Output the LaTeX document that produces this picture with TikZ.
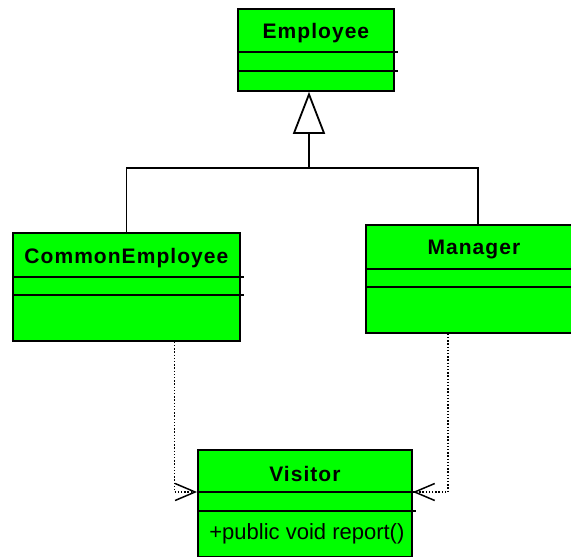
\documentclass[tikz,border=0pt]{standalone}
\usepackage{fontspec}
\setmainfont{Liberation Sans}
\newfontfamily\titlefont[LetterSpace=5]{Liberation Sans}
\usetikzlibrary{arrows.meta,positioning}
\definecolor{umlgreen}{HTML}{00FF00}
\tikzset{
    classbox/.style = {
        draw = black,
        rectangle,
        fill = umlgreen,
        line width = 1.8pt,
        anchor = north west,
        inner sep = 0pt
    },
    classname/.style = {
        inner sep = 0pt,
        text = black,
        yshift = -3pt,
        font = \titlefont\bfseries\fontsize{21}{22}\selectfont
    },
    opname/.style = {
        inner sep = 0pt,
        text = black,
        font = \fontsize{22}{24}\selectfont
    },
    divider/.style = {
        draw = black,
        line width = 1.8pt
    },
    tree/.style = {
        draw = black,
        line width = 1.8pt
    },
    inherit/.style = {
        tree,
        -{Triangle[open, length=42pt, width=32pt]}
    },
    depend/.style = {
        draw = black,
        line width = 1.4pt,
        dash pattern = on 1.4pt off 1.8pt,
        -{Straight Barb[length=20pt, width=17pt, line width=1.5pt]}
    }
}
\begin{document}
\begin{tikzpicture}[x=1pt, y=-1pt]
        \clip (0,0) rectangle (571,557);
%classes
        \node (emp) [classbox, minimum width=156pt, minimum height=82pt] at (237,8) {};
        \node (ce) [classbox, minimum width=227pt, minimum height=108pt] at (12,232) {};
        \node (mgr) [classbox, minimum width=224pt, minimum height=108pt] at (365,224) {};
        \node (vis) [classbox, minimum width=214pt, minimum height=107pt] at (197,449) {};

%class names
        \node (empname) [classname, below = 0pt of emp.north, minimum height=44pt]{Employee};
        \node (cename) [classname, below = 0pt of ce.north, minimum height=45pt]{CommonEmployee};
        \node (mgrname) [classname, below = 0pt of mgr.north, minimum height=45pt, xshift=-4pt]{Manager};
        \node (visname) [classname, below = 0pt of vis.north, minimum height=43pt]{Visitor};
        \node (visop) [opname, anchor=north, minimum height=45pt] at ([yshift=-62pt, xshift=2pt]vis.north){+public void report()};

%compartments
        \draw[divider] ([yshift=-44pt]emp.north west) -- ([yshift=-44pt, xshift=3pt]emp.north east);
        \draw[divider] ([yshift=-63pt]emp.north west) -- ([yshift=-63pt, xshift=3pt]emp.north east);
        \draw[divider] ([yshift=-45pt]ce.north west) -- ([yshift=-45pt, xshift=3pt]ce.north east);
        \draw[divider] ([yshift=-63pt]ce.north west) -- ([yshift=-63pt, xshift=3pt]ce.north east);
        \draw[divider] ([yshift=-45pt]mgr.north west) -- ([yshift=-45pt]mgr.north east);
        \draw[divider] ([yshift=-63pt]mgr.north west) -- ([yshift=-63pt]mgr.north east);
        \draw[divider] ([yshift=-43pt]vis.north west) -- ([yshift=-43pt, xshift=3pt]vis.north east);
        \draw[divider] ([yshift=-62pt]vis.north west) -- ([yshift=-62pt, xshift=3pt]vis.north east);

%add generalization
        \coordinate (join) at (309,168);
        \draw[tree] (ce.north) |- (join) -| (mgr.north);
        \draw[inherit] (join) -- (emp.south -| join);

%add dependencies
        \draw[depend] ([xshift=48pt]ce.south) |- ([yshift=-43pt]vis.north west);
        \draw[depend] ([xshift=-30pt]mgr.south) |- ([yshift=-43pt]vis.north east);
\end{tikzpicture}
\end{document}
